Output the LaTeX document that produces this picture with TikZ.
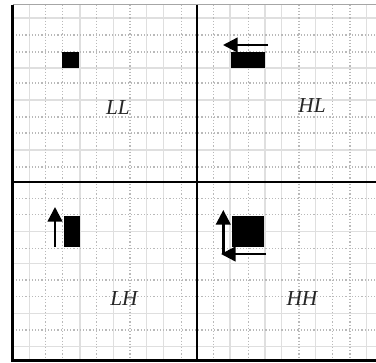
\documentclass[tikz,border=0pt]{standalone}
\usepackage{fontspec}
\setmainfont{Liberation Serif}
\usetikzlibrary{arrows.meta}
\tikzstyle{sg} = [draw=gray!25, line width=1.1pt]
\tikzstyle{dg} = [draw=gray!55, line width=0.9pt, dash pattern=on 0.9pt off 1.5pt]
\tikzstyle{fr} = [draw=black, line width=2pt]
\tikzstyle{arr} = [line width=1.8pt, -{Triangle[length=11pt,width=11pt]}]
\tikzstyle{l} = [font=\fontsize{16}{18}\selectfont\itshape, text=black!85]

\begin{document}
\begin{tikzpicture}[x=0.75pt,y=-0.75pt]
	\useasboundingbox (0,0) rectangle (376,362);
	% grid
	\foreach \x in {29.3,80,113.3,146.7,163.3,230,265,281.7,315.7,366.7}
		\draw[sg] (\x,4.5) -- (\x,360.5);
	\foreach \y in {18,68,100,150,231.7,263.3,313.3,346.7}
		\draw[sg] (12.7,\y) -- (376,\y);
	\foreach \x in {45.7,62.3,96.7,130,181.7,213.3,248.3,299,332.3,350}
		\draw[dg] (\x,4.5) -- (\x,360.5);
	\foreach \y in {35,52,83,117,133,167,198.3,214.3,248.3,280,296.7,330}
		\draw[dg] (12.7,\y) -- (376,\y);
	% frame
	\draw[gray!70, line width=1.2pt] (12.7,4.5) -- (376,4.5);
	\draw[fr] (12.7,4.5) -- (12.7,360.5) -- (376,360.5);
	\draw[fr] (197,4.5) -- (197,360.5);
	\draw[fr] (12.7,182) -- (376,182);
	% blocks
	\fill (62,52) rectangle (79,68);
	\fill (231,52) rectangle (265,68);
	\fill (63.5,216) rectangle (80,247);
	\fill (232,216) rectangle (264,247);
	% arrows
	\coordinate (hl1) at (268,45);
	\coordinate (hl2) at (223,45);
	\coordinate (lh1) at (55,247);
	\coordinate (lh2) at (55,207);
	\coordinate (hh1) at (223.3,254);
	\coordinate (hh2) at (223.3,210);
	\coordinate (hh3) at (266,254);
	\coordinate (hh4) at (221,254);
	\draw[arr] (hl1) -- (hl2);
	\draw[arr] (lh1) -- (lh2);
	\draw[arr] (hh1) -- (hh2);
	\draw[arr] (hh3) -- (hh4);
	% labels
	\node[l] (ll) at (118,108) {LL};
	\node[l] (hl) at (312,106) {HL};
	\node[l] (lh) at (124,299) {LH};
	\node[l] (hh) at (302,299) {HH};
\end{tikzpicture}
\end{document}
